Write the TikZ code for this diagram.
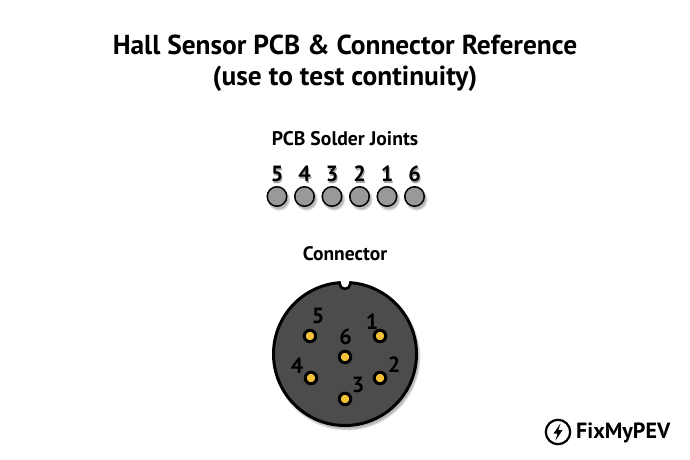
\documentclass[tikz,border=0pt]{standalone}
\usepackage{fontspec}
\setmainfont{PT Sans}
\definecolor{pinyellow}{HTML}{F4C136}
\tikzset{
  txt/.style={font=\bfseries\fontsize{#1}{#1}\selectfont,text=black,inner sep=0pt,align=center},
  sold/.style={circle,draw=black,line width=1.5pt,fill=black!40,minimum size=19.5pt,inner sep=0pt},
  pin/.style={circle,draw=black,line width=3pt,fill=pinyellow,minimum size=11.5pt,inner sep=0pt},
  softshadow/.style={fill=black,opacity=0.10}
}
\newcommand{\softdisc}[3]{%
  \fill[softshadow] (#1+2,#2+3) circle ({#3+1.5});
  \fill[softshadow] (#1+2,#2+3) circle ({#3+0.6});
  \fill[softshadow] (#1+2,#2+3) circle ({#3-0.3});
}
\begin{document}
\begin{tikzpicture}[x=1pt,y=-1pt]
\useasboundingbox (0,0) rectangle (690,460);
\fill[white] (0,0) rectangle (690,460);
\node[txt=27.4] (t1) at (345,45) {Hall Sensor PCB \& Connector Reference};
\node[txt=27.4] (t2) at (345,79) {(use to test continuity)};
\node[txt=19.7] (pcb) at (345,139) {PCB Solder Joints};
\node[txt=19.5] (con) at (345,254) {Connector};
% solder joints
\foreach \n/\x/\l in {a/277/5,b/304.5/4,c/332/3,d/359.5/2,e/387/1,f/414.5/6}{
  \softdisc{\x}{196.5}{9.8}
  \node[sold] (s\n) at (\x,196.5) {};
  \node[txt=22,text=black!35] (lsh\n) at (\x+1.2,175.5) {\l};
  \node[txt=22] (l\n) at (\x,174) {\l};
}
% connector
\softdisc{345}{354}{72}
\draw[line width=3pt,fill=black!70] (345,354) circle (71.5);
\fill[white] (340.2,278) rectangle (349.8,284);
\fill[white] (345,284) circle (4.8);
\draw[line width=2.6pt] (339.6,281.4) -- (339.6,283.5) arc[start angle=180,end angle=0,radius=5.4] -- (350.4,281.4);
\foreach \n/\x/\y in {1/380/336,2/380/378,3/345/399,4/311/378,5/310/336,6/345/357}{
  \node[pin] (p\n) at (\x,\y) {};
}
\foreach \n/\x/\y in {1/372/322,2/394/365,3/358/385,4/297/366,5/318/316,6/345.5/337}{
  \node[txt=22] (n\n) at (\x,\y) {\n};
}
% logo
\draw[line width=2.2pt] (558,432) circle (12.2);
\fill (560.5,423.5) -- (553.5,433.5) -- (557.5,433.5) -- (555.5,440.5) -- (562.5,430) -- (558.5,430) -- cycle;
\node[txt=22,anchor=west] (logo) at (576,433) {FixMyPEV};
\end{tikzpicture}
\end{document}
